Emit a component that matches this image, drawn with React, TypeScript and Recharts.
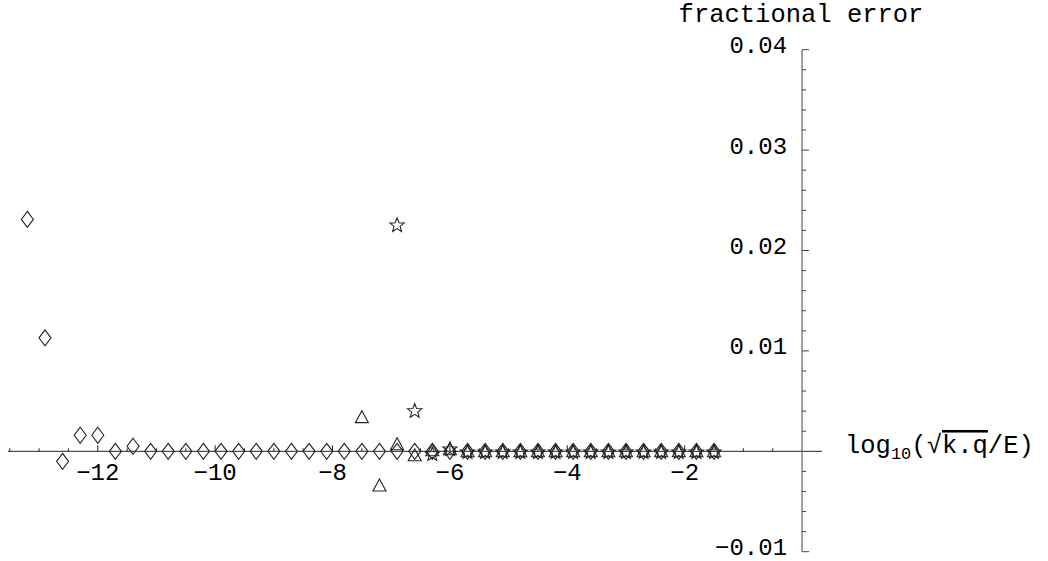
import React from "react";
import { ReferenceLine, Scatter, ScatterChart, XAxis, YAxis } from "recharts";

// log10(sqrt(k.q)/E) positions shared by the three runs
const logRatio = [
  -13.2, -12.9, -12.6, -12.3, -12.0, -11.7, -11.4, -11.1, -10.8, -10.5,
  -10.2, -9.9, -9.6, -9.3, -9.0, -8.7, -8.4, -8.1, -7.8, -7.5,
  -7.2, -6.9, -6.6, -6.3, -6.0, -5.7, -5.4, -5.1, -4.8, -4.5,
  -4.2, -3.9, -3.6, -3.3, -3.0, -2.7, -2.4, -2.1, -1.8, -1.5,
];

const diamondErr = [
  0.0231, 0.0113, -0.001, 0.0016, 0.0016, 0.0, 0.0005, 0, 0, 0,
  0, 0, 0, 0, 0, 0, 0, 0, 0, 0,
  0, 0, 0, 0, 0, 0, 0, 0, 0, 0,
  0, 0, 0, 0, 0, 0, 0, 0, 0, 0,
];
// triangles start at -7.5
const triangleErr = [
  0.0034, -0.0034, 0.0007, -0.0004, 0.0001, 0.0002, 0, 0, 0, 0,
  0, 0, 0, 0, 0, 0, 0, 0, 0, 0, 0,
];
// stars start at -6.9
const starErr = [
  0.0226, 0.0041, -0.0002, 0.0003, 0, 0, 0, 0, 0, 0,
  0, 0, 0, 0, 0, 0, 0, 0, 0,
];

const xMajorTicks = [-12, -10, -8, -6, -4, -2];
const xMinorTicks = [
  -13.5, -13, -12.5, -11.5, -11, -10.5, -9.5, -9, -8.5, -7.5, -7,
  -6.5, -5.5, -5, -4.5, -3.5, -3, -2.5, -1.5, -1, -0.5,
];
const yMajorTicks = [-0.01, 0.01, 0.02, 0.03, 0.04];
const yMinorTicks = [
  -0.008, -0.006, -0.004, -0.002, 0.002, 0.004, 0.006, 0.008,
  0.012, 0.014, 0.016, 0.018, 0.022, 0.024, 0.026, 0.028,
  0.032, 0.034, 0.036, 0.038,
];
const xTickLabels = ["−12", "−10", "−8", "−6", "−4", "−2"];
const yTickLabels = ["−0.01", "0.01", "0.02", "0.03", "0.04"];

const diamonds = logRatio.map((x, i) => ({ x, y: diamondErr[i] }));
const triangles = logRatio.slice(19).map((x, i) => ({ x, y: triangleErr[i] }));
const stars = logRatio.slice(21).map((x, i) => ({ x, y: starErr[i] }));

const FONT = "'Liberation Mono', 'DejaVu Sans Mono', monospace";
const INK = "#222";

const Diamond = (p: any) => {
  const { cx, cy } = p;
  return (
    <path
      d={`M${cx},${cy - 8}L${cx + 6},${cy}L${cx},${cy + 8}L${cx - 6},${cy}Z`}
      fill="none"
      stroke={INK}
      strokeWidth={1.1}
    />
  );
};

const Triangle = (p: any) => {
  const { cx, cy } = p;
  return (
    <path
      d={`M${cx},${cy - 6.5}L${cx + 6.5},${cy + 5.5}L${cx - 6.5},${cy + 5.5}Z`}
      fill="none"
      stroke={INK}
      strokeWidth={1.1}
    />
  );
};

const Star = (p: any) => {
  const { cx, cy } = p;
  const pts: string[] = [];
  for (let k = 0; k < 10; k++) {
    const r = k % 2 === 0 ? 7.5 : 3.2;
    const a = -Math.PI / 2 + (k * Math.PI) / 5;
    pts.push(`${cx + r * Math.cos(a)},${cy + 1 + r * Math.sin(a)}`);
  }
  return <polygon points={pts.join(" ")} fill="none" stroke={INK} strokeWidth={1.1} />;
};

// y tick label, sits a little above its tick like the original
const yLabel = (text: string) => (props: any) => {
  const vb = props.viewBox || {};
  return (
    <text
      x={vb.x - 15}
      y={vb.y - 3}
      textAnchor="end"
      dominantBaseline="central"
      fontFamily={FONT}
      fontSize={24}
      fill="#000"
    >
      {text}
    </text>
  );
};

export default function App() {
  return (
    <div style={{ position: "absolute", left: 0, top: 0, width: 1048, height: 561, background: "#fff" }}>
      <ScatterChart
        width={1048}
        height={561}
        margin={{ top: 49.7, right: 226, bottom: 9.3, left: 8 }}
      >
        <XAxis type="number" dataKey="x" domain={[-13.53, 0.34]} allowDataOverflow hide />
        <YAxis type="number" dataKey="y" domain={[-0.01, 0.04]} allowDataOverflow hide />

        <ReferenceLine y={0} stroke={INK} strokeWidth={1} />
        <ReferenceLine x={0} stroke="#444" strokeWidth={1} />

        {xMajorTicks.map((t, i) => (
          <ReferenceLine
            key={`xm${t}`}
            segment={[{ x: t, y: 0 }, { x: t, y: 0.0006 }]}
            stroke={INK}
            label={{
              value: xTickLabels[i],
              position: "bottom",
              offset: 12,
              fill: "#000",
              fontSize: 24,
              fontFamily: FONT,
            }}
          />
        ))}
        {xMinorTicks.map((t) => (
          <ReferenceLine key={`xn${t}`} segment={[{ x: t, y: 0 }, { x: t, y: 0.0003 }]} stroke={INK} />
        ))}
        {yMajorTicks.map((t, i) => (
          <ReferenceLine
            key={`ym${t}`}
            segment={[{ x: 0, y: t }, { x: 0.12, y: t }]}
            stroke="#444"
            label={{ content: yLabel(yTickLabels[i]) }}
          />
        ))}
        {yMinorTicks.map((t) => (
          <ReferenceLine key={`yn${t}`} segment={[{ x: 0, y: t }, { x: 0.068, y: t }]} stroke="#444" />
        ))}

        <Scatter data={diamonds} shape={Diamond} isAnimationActive={false} />
        <Scatter data={triangles} shape={Triangle} isAnimationActive={false} />
        <Scatter data={stars} shape={Star} isAnimationActive={false} />
      </ScatterChart>

      <svg
        width={1048}
        height={561}
        style={{ position: "absolute", left: 0, top: 0, pointerEvents: "none" }}
      >
        <text x={801} y={22} textAnchor="middle" fontFamily={FONT} fontSize={25.5} fill="#000">
          fractional error
        </text>
        <text x={845} y={453} fontFamily={FONT} fontSize={25.5} fill="#000">
          log
          <tspan fontSize={17} dy={6}>10</tspan>
          <tspan dy={-6}>(√</tspan>
          <tspan style={{ textDecoration: "overline" }}>k.q</tspan>
          /E)
        </text>
      </svg>
    </div>
  );
}
